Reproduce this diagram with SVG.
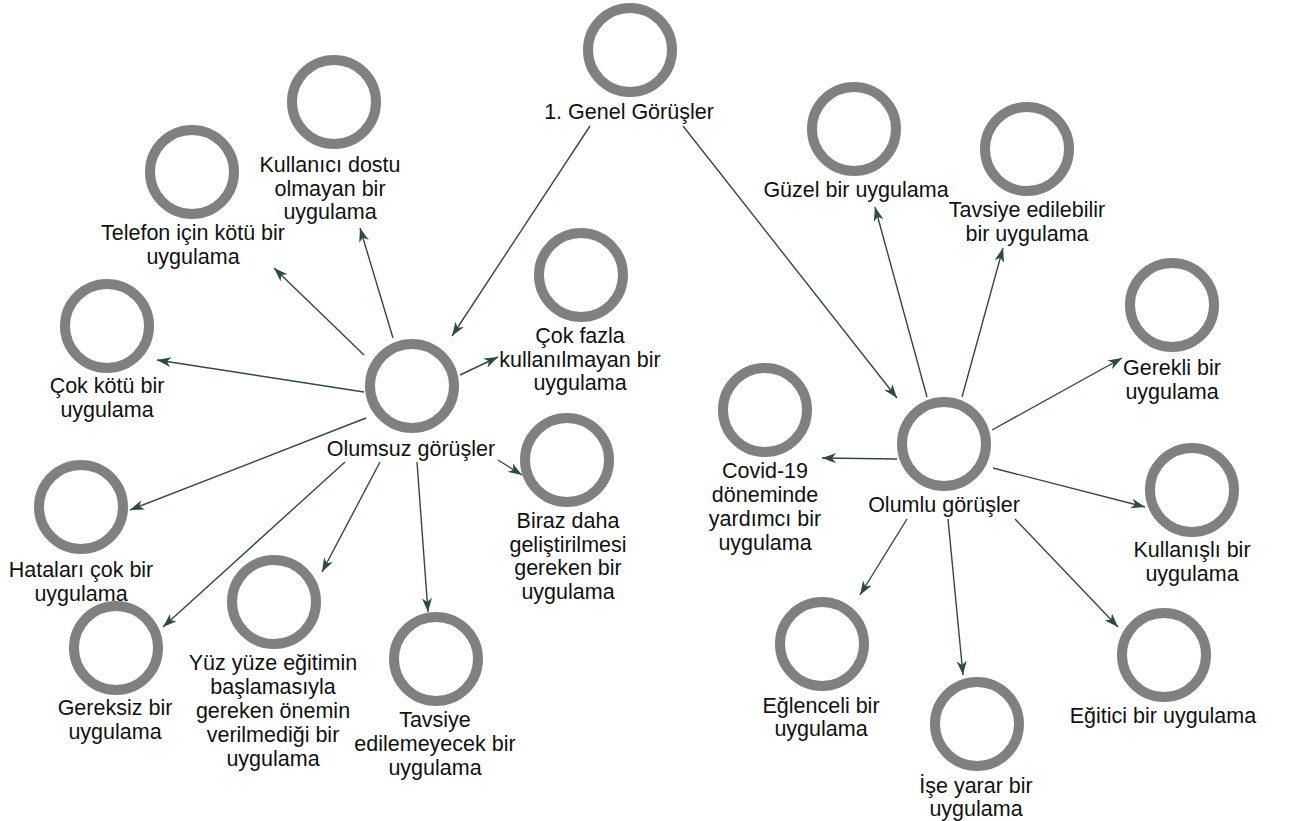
<svg xmlns="http://www.w3.org/2000/svg" width="1295" height="821" viewBox="0 0 1295 821">
<defs>
<style>
.ring{fill:#ffffff;stroke:#808080;stroke-width:10}
.lbl{font-family:"Liberation Sans",Arial,sans-serif;font-size:21.5px;fill:#111111;text-anchor:middle}
.edge{stroke:#34483f;stroke-width:1.4;fill:none;marker-end:url(#arr)}
</style>
<marker id="arr" viewBox="0 0 14 10" refX="14" refY="5" markerWidth="14" markerHeight="10" markerUnits="userSpaceOnUse" orient="auto">
<path d="M0,0 L14,5 L0,10 L4,5 z" fill="#2f4a40"/>
</marker>
</defs>
<rect width="1295" height="821" fill="#ffffff"/>
<g id="connectors">
<line class="edge" x1="590" y1="126" x2="452" y2="336"/>
<line class="edge" x1="683" y1="126" x2="897" y2="398"/>
<line class="edge" x1="393" y1="338" x2="360" y2="228"/>
<line class="edge" x1="364" y1="355" x2="274" y2="268"/>
<line class="edge" x1="364" y1="392" x2="157" y2="360"/>
<line class="edge" x1="366" y1="418" x2="130" y2="510"/>
<line class="edge" x1="460" y1="375" x2="498" y2="357"/>
<line class="edge" x1="498" y1="460" x2="522" y2="475"/>
<line class="edge" x1="345" y1="462" x2="163" y2="627"/>
<line class="edge" x1="380" y1="462" x2="322" y2="572"/>
<line class="edge" x1="417" y1="462" x2="428" y2="612"/>
<line class="edge" x1="927" y1="397" x2="875" y2="207"/>
<line class="edge" x1="962" y1="397" x2="1003" y2="248"/>
<line class="edge" x1="992" y1="430" x2="1122" y2="358"/>
<line class="edge" x1="993" y1="468" x2="1145" y2="507"/>
<line class="edge" x1="897" y1="459" x2="822" y2="458"/>
<line class="edge" x1="907" y1="519" x2="860" y2="595"/>
<line class="edge" x1="948" y1="519" x2="963" y2="675"/>
<line class="edge" x1="1015" y1="519" x2="1118" y2="627"/>
</g>
<g id="genel"><circle class="ring" cx="630" cy="50" r="42"/><text class="lbl" x="629" y="119">1. Genel Görüşler</text></g>
<g id="olumsuz"><circle class="ring" cx="412" cy="386" r="42"/><text class="lbl" x="411" y="456">Olumsuz görüşler</text></g>
<g id="olumlu"><circle class="ring" cx="944" cy="444" r="42"/><text class="lbl" x="944" y="512">Olumlu görüşler</text></g>
<g id="kullanici-dostu"><circle class="ring" cx="334" cy="102" r="42"/><text class="lbl" x="330" y="172"><tspan x="330">Kullanıcı dostu</tspan><tspan x="330" dy="23.5">olmayan bir</tspan><tspan x="330" dy="23.5">uygulama</tspan></text></g>
<g id="telefon"><circle class="ring" cx="192" cy="172" r="42"/><text class="lbl" x="193" y="240"><tspan x="193">Telefon için kötü bir</tspan><tspan x="193" dy="23.5">uygulama</tspan></text></g>
<g id="cok-kotu"><circle class="ring" cx="107" cy="326" r="42"/><text class="lbl" x="107" y="393"><tspan x="107">Çok kötü bir</tspan><tspan x="107" dy="23.5">uygulama</tspan></text></g>
<g id="cok-fazla"><circle class="ring" cx="581" cy="275" r="42"/><text class="lbl" x="580" y="343"><tspan x="580">Çok fazla</tspan><tspan x="580" dy="23.5">kullanılmayan bir</tspan><tspan x="580" dy="23.5">uygulama</tspan></text></g>
<g id="biraz-daha"><circle class="ring" cx="567" cy="460" r="42"/><text class="lbl" x="568" y="528"><tspan x="568">Biraz daha</tspan><tspan x="568" dy="23.5">geliştirilmesi</tspan><tspan x="568" dy="23.5">gereken bir</tspan><tspan x="568" dy="23.5">uygulama</tspan></text></g>
<g id="hatalari"><circle class="ring" cx="81" cy="507" r="42"/><text class="lbl" x="81" y="577"><tspan x="81">Hataları çok bir</tspan><tspan x="81" dy="23.5">uygulama</tspan></text></g>
<g id="gereksiz"><circle class="ring" cx="116" cy="648" r="42"/><text class="lbl" x="115" y="715"><tspan x="115">Gereksiz bir</tspan><tspan x="115" dy="23.5">uygulama</tspan></text></g>
<g id="yuz-yuze"><circle class="ring" cx="274" cy="602" r="42"/><text class="lbl" x="273" y="670"><tspan x="273">Yüz yüze eğitimin</tspan><tspan x="273" dy="24">başlamasıyla</tspan><tspan x="273" dy="24">gereken önemin</tspan><tspan x="273" dy="24">verilmediği bir</tspan><tspan x="273" dy="24">uygulama</tspan></text></g>
<g id="tavsiye-edilemeyecek"><circle class="ring" cx="436" cy="659" r="42"/><text class="lbl" x="435" y="727"><tspan x="435">Tavsiye</tspan><tspan x="435" dy="24">edilemeyecek bir</tspan><tspan x="435" dy="24">uygulama</tspan></text></g>
<g id="guzel"><circle class="ring" cx="854" cy="129" r="42"/><text class="lbl" x="856" y="197">Güzel bir uygulama</text></g>
<g id="tavsiye-edilebilir"><circle class="ring" cx="1027" cy="149" r="42"/><text class="lbl" x="1027" y="217"><tspan x="1027">Tavsiye edilebilir</tspan><tspan x="1027" dy="23.5">bir uygulama</tspan></text></g>
<g id="gerekli"><circle class="ring" cx="1172" cy="305" r="42"/><text class="lbl" x="1172" y="375"><tspan x="1172">Gerekli bir</tspan><tspan x="1172" dy="23.5">uygulama</tspan></text></g>
<g id="covid"><circle class="ring" cx="765" cy="410" r="42"/><text class="lbl" x="765" y="478"><tspan x="765">Covid-19</tspan><tspan x="765" dy="24">döneminde</tspan><tspan x="765" dy="24">yardımcı bir</tspan><tspan x="765" dy="24">uygulama</tspan></text></g>
<g id="kullanisli"><circle class="ring" cx="1192" cy="490" r="42"/><text class="lbl" x="1192" y="557"><tspan x="1192">Kullanışlı bir</tspan><tspan x="1192" dy="23.5">uygulama</tspan></text></g>
<g id="eglenceli"><circle class="ring" cx="822" cy="644" r="42"/><text class="lbl" x="821" y="713"><tspan x="821">Eğlenceli bir</tspan><tspan x="821" dy="23">uygulama</tspan></text></g>
<g id="ise-yarar"><circle class="ring" cx="977" cy="724" r="42"/><text class="lbl" x="976" y="793"><tspan x="976">İşe yarar bir</tspan><tspan x="976" dy="23">uygulama</tspan></text></g>
<g id="egitici"><circle class="ring" cx="1164" cy="655" r="42"/><text class="lbl" x="1163" y="723">Eğitici bir uygulama</text></g>
</svg>
